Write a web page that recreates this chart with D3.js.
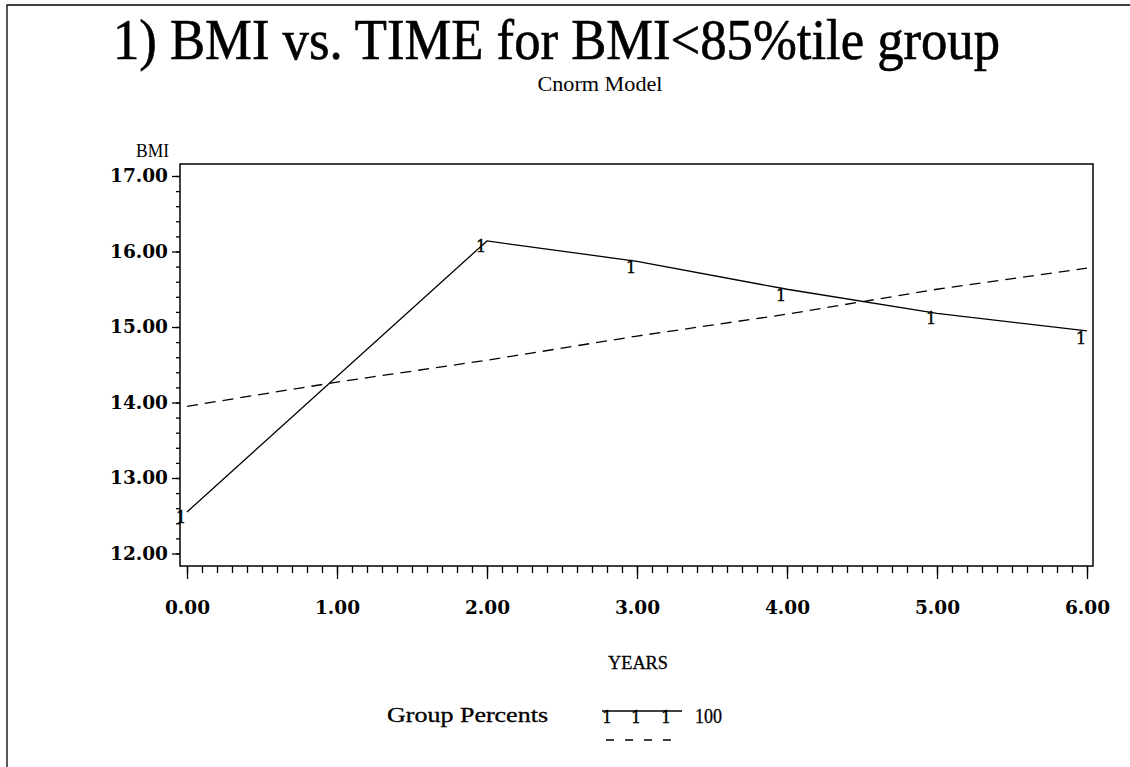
<!DOCTYPE html>
<html>
<head>
<meta charset="utf-8">
<script src="https://cdn.jsdelivr.net/npm/d3@7/dist/d3.min.js"></script>
<style>
  body { margin: 0; background: #fff; }
  svg { display: block; }
</style>
</head>
<body>
<div id="chart"><svg width="1130" height="767"></svg></div>
<script>
// observed group means (the "1" symbols) and the fitted model line
var years = [0, 2, 3, 4, 5, 6]
var observedBmi = [12.48, 16.07, 15.79, 15.42, 15.11, 14.85]
var fittedBmi = [12.55, 16.14, 15.87, 15.5, 15.18, 14.95]

// reference curve (dashed)
var refYears = [0, 1, 2, 3, 4, 5, 6]
var refBmi = [13.95, 14.27, 14.56, 14.88, 15.17, 15.5, 15.78]

var yMajor = [12, 13, 14, 15, 16, 17]
var xMajor = [0, 1, 2, 3, 4, 5, 6]

var title = '1) BMI vs. TIME for BMI<85%tile group'
var subtitle = 'Cnorm Model'
var yLabel = 'BMI'
var xLabel = 'YEARS'
var legendTitle = 'Group Percents'
var legendLabel = '100'
var markerSymbol = '1'

var serif = "'Liberation Serif', 'DejaVu Serif', serif"
var tickFont = "'DejaVu Serif', serif"

var frame = { left: 180, top: 164, right: 1093, bottom: 566 }

var svg = d3.select('#chart svg')

svg
  .append('rect')
  .attr('width', 1130)
  .attr('height', 767)
  .attr('fill', '#fff')

// page border (top and left only)
svg
  .append('path')
  .attr('d', 'M7,767V5H1130')
  .attr('fill', 'none')
  .attr('stroke', '#000')
  .attr('stroke-width', 1.3)

var x = d3
  .scaleLinear()
  .domain([0, 6])
  .range([187, 1087])

var y = d3
  .scaleLinear()
  .domain([12, 17])
  .range([553.5, 176])

svg
  .append('text')
  .attr('x', 113)
  .attr('y', 59)
  .attr('textLength', 887)
  .attr('lengthAdjust', 'spacingAndGlyphs')
  .style('font-family', serif)
  .style('font-size', '56px')
  .style('stroke', '#000')
  .style('stroke-width', 0.6)
  .text(title)

svg
  .append('text')
  .attr('x', 600)
  .attr('y', 91)
  .attr('text-anchor', 'middle')
  .attr('textLength', 125)
  .attr('lengthAdjust', 'spacingAndGlyphs')
  .style('font-family', serif)
  .style('font-size', '21px')
  .text(subtitle)

svg
  .append('text')
  .attr('x', 136)
  .attr('y', 157)
  .attr('textLength', 33)
  .attr('lengthAdjust', 'spacingAndGlyphs')
  .style('font-family', serif)
  .style('font-size', '19px')
  .text(yLabel)

// plot frame
svg
  .append('rect')
  .attr('x', frame.left)
  .attr('y', frame.top)
  .attr('width', frame.right - frame.left)
  .attr('height', frame.bottom - frame.top)
  .attr('fill', 'none')
  .attr('stroke', '#000')
  .attr('stroke-width', 1.5)

// y axis: minor ticks every 0.2, majors with labels
var yMinor = svg
  .append('g')
  .attr('transform', 'translate(' + frame.left + ',0)')
  .call(
    d3
      .axisLeft(y)
      .tickValues(d3.range(12, 17.01, 0.2))
      .tickSize(4)
      .tickFormat('')
  )
yMinor.select('.domain').remove()

var yAxis = svg
  .append('g')
  .attr('transform', 'translate(' + frame.left + ',0)')
  .call(
    d3
      .axisLeft(y)
      .tickValues(yMajor)
      .tickSize(8)
      .tickPadding(4)
      .tickFormat(d3.format('.2f'))
  )
yAxis.select('.domain').remove()
yAxis
  .selectAll('text')
  .style('font-family', tickFont)
  .style('font-weight', 'bold')
  .style('font-size', '18.5px')
  .attr('fill', '#000')

// x axis: minor ticks every 0.1
var xMinor = svg
  .append('g')
  .attr('transform', 'translate(0,' + frame.bottom + ')')
  .call(
    d3
      .axisBottom(x)
      .tickValues(d3.range(0, 6.001, 0.1))
      .tickSize(7)
      .tickFormat('')
  )
xMinor.select('.domain').remove()

var xAxis = svg
  .append('g')
  .attr('transform', 'translate(0,' + frame.bottom + ')')
  .call(
    d3
      .axisBottom(x)
      .tickValues(xMajor)
      .tickSize(13)
      .tickPadding(22)
      .tickFormat(d3.format('.2f'))
  )
xAxis.select('.domain').remove()
xAxis
  .selectAll('text')
  .style('font-family', tickFont)
  .style('font-weight', 'bold')
  .style('font-size', '18.5px')
  .attr('fill', '#000')

svg
  .selectAll('.tick line')
  .attr('stroke', '#000')
  .attr('stroke-width', 1.3)

svg
  .append('text')
  .attr('x', 638)
  .attr('y', 669)
  .attr('text-anchor', 'middle')
  .attr('textLength', 60)
  .attr('lengthAdjust', 'spacingAndGlyphs')
  .style('font-family', serif)
  .style('font-size', '19px')
  .style('stroke', '#000')
  .style('stroke-width', 0.3)
  .text(xLabel)

// curves
var fitLine = d3
  .line()
  .x(function(d) {
    return x(d[0])
  })
  .y(function(d) {
    return y(d[1])
  })

svg
  .append('path')
  .datum(d3.zip(refYears, refBmi))
  .attr('d', fitLine)
  .attr('fill', 'none')
  .attr('stroke', '#000')
  .attr('stroke-width', 1.3)
  .attr('stroke-dasharray', '11,7')

svg
  .append('path')
  .datum(d3.zip(years, fittedBmi))
  .attr('d', fitLine)
  .attr('fill', 'none')
  .attr('stroke', '#000')
  .attr('stroke-width', 1.3)

var drawMarker = function(sel) {
  sel
    .attr('text-anchor', 'middle')
    .attr('dy', '0.36em')
    .style('font-family', tickFont)
    .style('font-size', '16px')
    .style('stroke', '#000')
    .style('stroke-width', 0.4)
    .text(markerSymbol)
}

svg
  .append('g')
  .selectAll('text')
  .data(d3.zip(years, observedBmi))
  .enter()
  .append('text')
  .attr('x', function(d) {
    return x(d[0]) - 6
  })
  .attr('y', function(d) {
    return y(d[1])
  })
  .call(drawMarker)

// legend
var legend = svg.append('g')

legend
  .append('text')
  .attr('x', 387)
  .attr('y', 722)
  .attr('textLength', 161)
  .attr('lengthAdjust', 'spacingAndGlyphs')
  .style('font-family', serif)
  .style('font-size', '20px')
  .style('stroke', '#000')
  .style('stroke-width', 0.3)
  .style('white-space', 'pre')
  .text(legendTitle)

legend
  .append('line')
  .attr('x1', 602)
  .attr('x2', 682)
  .attr('y1', 711)
  .attr('y2', 711)
  .attr('stroke', '#000')
  .attr('stroke-width', 1.3)

legend
  .selectAll('.legend-marker')
  .data([607, 636, 666])
  .enter()
  .append('text')
  .attr('class', 'legend-marker')
  .attr('x', function(d) {
    return d
  })
  .attr('y', 717)
  .call(drawMarker)

legend
  .append('text')
  .attr('x', 695)
  .attr('y', 723)
  .attr('textLength', 27)
  .attr('lengthAdjust', 'spacingAndGlyphs')
  .style('font-family', serif)
  .style('font-size', '20px')
  .style('stroke', '#000')
  .style('stroke-width', 0.3)
  .text(legendLabel)

legend
  .append('line')
  .attr('x1', 606)
  .attr('x2', 674)
  .attr('y1', 740)
  .attr('y2', 740)
  .attr('stroke', '#000')
  .attr('stroke-width', 1.3)
  .attr('stroke-dasharray', '8,11')
</script>
</body>
</html>
